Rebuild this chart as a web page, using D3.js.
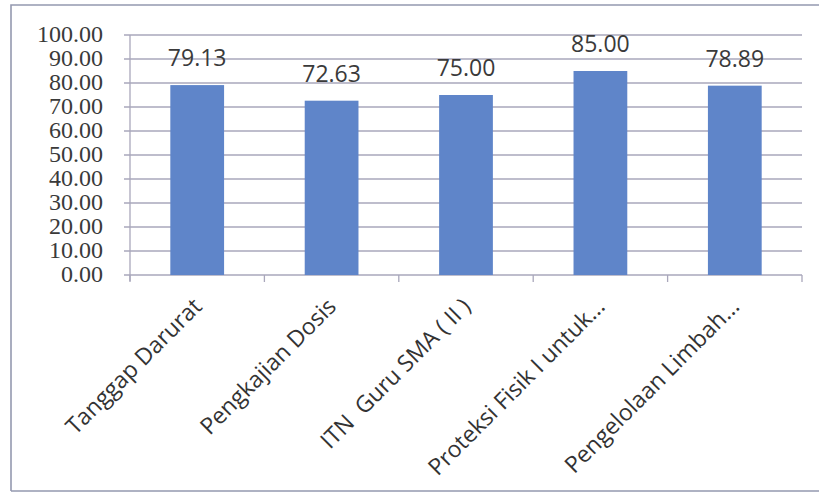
<!DOCTYPE html>
<html>
<head>
<meta charset="utf-8">
<script src="https://cdn.jsdelivr.net/npm/d3@7"></script>
<style>
  html, body { margin: 0; padding: 0; background: #fff; }
  svg { display: block; }
</style>
</head>
<body>
<svg id="chart" width="819" height="497"></svg>
<script>
// Course names and average scores
const categories = ["Tanggap Darurat", "Pengkajian Dosis", "ITN  Guru SMA ( II )", "Proteksi Fisik I untuk...", "Pengelolaan Limbah..."];
const scores = [79.13, 72.63, 75.00, 85.00, 78.89];
const yTicks = [0, 10, 20, 30, 40, 50, 60, 70, 80, 90, 100];

const svg = d3.select("#chart");
const W = 819, H = 497;

// Chart frame
svg.append("rect").attr("x", 0).attr("y", 0).attr("width", W).attr("height", H).attr("fill", "#fff");
svg.append("path")
  .attr("d", `M11,491 L11,5 L819,5 M11,491 L819,491`)
  .attr("fill", "none").attr("stroke", "#9499b0").attr("stroke-width", 1.6);

const plot = { left: 130, right: 802, top: 35, bottom: 275 };

const x = d3.scaleBand().domain(categories).range([plot.left, plot.right]).paddingInner(0.6).paddingOuter(0.3);
const xb = d3.scaleBand().domain(categories).range([plot.left, plot.right]);
const y = d3.scaleLinear().domain([0, 100]).range([plot.bottom, plot.top]);

// Horizontal gridlines
svg.append("g").selectAll("line").data(yTicks).join("line")
  .attr("x1", plot.left - 6).attr("x2", plot.right)
  .attr("y1", d => y(d)).attr("y2", d => y(d))
  .attr("stroke", "#a9a7bb").attr("stroke-width", 1.3);

// Value axis line
svg.append("line").attr("x1", plot.left).attr("x2", plot.left)
  .attr("y1", plot.top).attr("y2", plot.bottom + 6)
  .attr("stroke", "#a9a7bb").attr("stroke-width", 1.3);

// Category tick marks below the baseline
svg.append("g").selectAll("line").data(categories.concat(["__end"])).join("line")
  .attr("x1", (d, i) => i < categories.length ? xb(d) : plot.right)
  .attr("x2", (d, i) => i < categories.length ? xb(d) : plot.right)
  .attr("y1", plot.bottom).attr("y2", plot.bottom + 7)
  .attr("stroke", "#a9a7bb").attr("stroke-width", 1.3);

// Y tick labels
svg.append("g").selectAll("text").data(yTicks).join("text")
  .attr("x", 103).attr("y", d => y(d) + 7)
  .attr("text-anchor", "end")
  .attr("font-family", "'Liberation Serif', 'Times New Roman', serif")
  .attr("font-size", 24).attr("fill", "#3a3a3a")
  .text(d => d3.format(".2f")(d));

// Bars
svg.append("g").selectAll("rect").data(categories).join("rect")
  .attr("x", d => x(d)).attr("width", x.bandwidth())
  .attr("y", (d, i) => y(scores[i]))
  .attr("height", (d, i) => y(0) - y(scores[i]))
  .attr("fill", "#5f85c9");

// Value labels
svg.append("g").selectAll("text").data(categories).join("text")
  .attr("x", d => x(d) + x.bandwidth() / 2)
  .attr("y", (d, i) => y(scores[i]) - 19)
  .attr("text-anchor", "middle")
  .attr("font-family", "'Open Sans', 'DejaVu Sans', sans-serif")
  .attr("font-size", 23).attr("fill", "#3a3a3a")
  .text((d, i) => d3.format(".2f")(scores[i]));

// Rotated category labels
svg.append("g").selectAll("text").data(categories).join("text")
  .attr("transform", d => `translate(${xb(d) + xb.bandwidth() / 2 + 6},${plot.bottom + 33}) rotate(-45)`)
  .attr("text-anchor", "end")
  .style("white-space", "pre")
  .attr("font-family", "'Open Sans', 'DejaVu Sans', sans-serif")
  .attr("font-size", 23).attr("fill", "#333")
  .text(d => d);
</script>
</body>
</html>
